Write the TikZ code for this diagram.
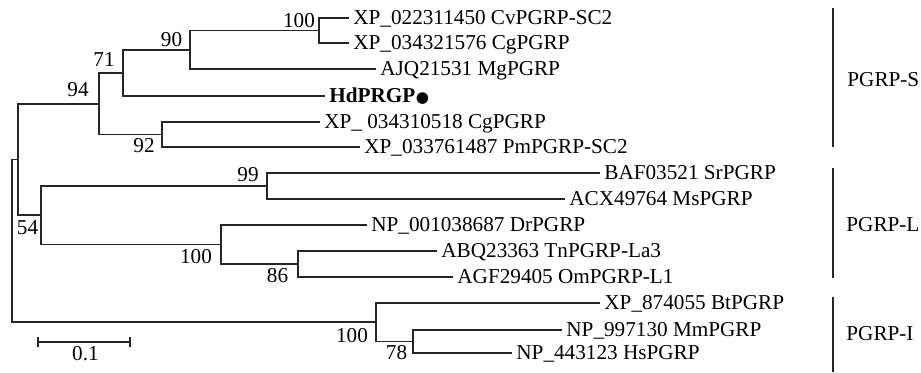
\documentclass[tikz,border=0pt]{standalone}
\usepackage{fontspec}
\setmainfont{Liberation Serif}
\newfontfamily\dotfont{DejaVu Sans}
\begin{document}
\begin{tikzpicture}[x=0.5pt,y=-0.5pt,
  txt/.style={font=\fontsize{10.6}{12}\selectfont, text height=0.66em, text depth=0pt},
  br/.style={line width=0.6pt, black!85},
  leaf/.style={txt, anchor=west, inner xsep=2pt, inner ysep=0pt},
  boot/.style={txt, inner sep=0pt},
  grp/.style={txt, anchor=west, inner sep=0pt},
  bar/.style={line width=1.1pt, black!85}]
\useasboundingbox (0,0) rectangle (921,372);
% internal nodes
\coordinate (root) at (12,240.75);
\coordinate (nSL) at (18,159.5);
\coordinate (nS) at (99,104);
\coordinate (n71) at (123,73);
\coordinate (n90) at (190,50);
\coordinate (n100a) at (319,30.5);
\coordinate (n92) at (162,134.5);
\coordinate (nL) at (41,215);
\coordinate (n99) at (267,186);
\coordinate (n100b) at (221,244.5);
\coordinate (n86) at (298,264);
\coordinate (nI) at (376,322);
\coordinate (n78) at (413,341.5);
% leaves
\node[leaf] (cv) at (349,18) {XP\_022311450 CvPGRP-SC2};
\node[leaf] (cg1) at (349,43) {XP\_034321576 CgPGRP};
\node[leaf] (ajq) at (376,69) {AJQ21531 MgPGRP};
\node[leaf] (hd) at (325,96) {\textbf{HdPRGP}\kern0.3pt\raisebox{0.3pt}{\dotfont\fontsize{7.6}{8}\selectfont ●}};
\node[leaf] (cg2) at (320,122) {XP\_ 034310518 CgPGRP};
\node[leaf] (pm) at (360,147) {XP\_033761487 PmPGRP-SC2};
\node[leaf] (baf) at (600,173) {BAF03521 SrPGRP};
\node[leaf] (acx) at (565,199) {ACX49764 MsPGRP};
\node[leaf] (dr) at (367,225) {NP\_001038687 DrPGRP};
\node[leaf] (abq) at (437,251) {ABQ23363 TnPGRP-La3};
\node[leaf] (agf) at (453,277) {AGF29405 OmPGRP-L1};
\node[leaf] (bt) at (600,303) {XP\_874055 BtPGRP};
\node[leaf] (mm) at (562,330) {NP\_997130 MmPGRP};
\node[leaf] (hs) at (512,353) {NP\_443123 HsPGRP};
% branches
\draw[br] (root) |- (nSL);
\draw[br] (root) |- (nI);
\draw[br] (nSL) |- (nS);
\draw[br] (nSL) |- (nL);
\draw[br] (nS) |- (n71);
\draw[br] (nS) |- (n92);
\draw[br] (n71) |- (n90);
\draw[br] (n71) |- (hd.west);
\draw[br] (n90) |- (n100a);
\draw[br] (n90) |- (ajq.west);
\draw[br] (n100a) |- (cv.west);
\draw[br] (n100a) |- (cg1.west);
\draw[br] (n92) |- (cg2.west);
\draw[br] (n92) |- (pm.west);
\draw[br] (nL) |- (n99);
\draw[br] (nL) |- (n100b);
\draw[br] (n99) |- (baf.west);
\draw[br] (n99) |- (acx.west);
\draw[br] (n100b) |- (dr.west);
\draw[br] (n100b) |- (n86);
\draw[br] (n86) |- (abq.west);
\draw[br] (n86) |- (agf.west);
\draw[br] (nI) |- (bt.west);
\draw[br] (nI) |- (n78);
\draw[br] (n78) |- (mm.west);
\draw[br] (n78) |- (hs.west);
% bootstrap values
\node[boot] (b100a) at (299,20.5) {100};
\node[boot] (b90) at (171.5,39.5) {90};
\node[boot] (b71) at (104,59.5) {71};
\node[boot] (b94) at (78,90) {94};
\node[boot] (b92) at (144,145.5) {92};
\node[boot] (b99) at (248,174.5) {99};
\node[boot] (b54) at (27.5,228) {54};
\node[boot] (b100b) at (196,256.5) {100};
\node[boot] (b86) at (277.5,275.5) {86};
\node[boot] (b100c) at (352,336) {100};
\node[boot] (b78) at (396.5,352.5) {78};
% scale bar
\coordinate (sb1) at (38,342);
\coordinate (sb2) at (130,342);
\draw[br] (sb1) -- (sb2);
\draw[br] ([yshift=2.5pt]sb1) -- ([yshift=-2.5pt]sb1);
\draw[br] ([yshift=2.5pt]sb2) -- ([yshift=-2.5pt]sb2);
\node[boot] (sbl) at (85.5,353.5) {0.1};
% group bars
\draw[bar] (833,8) -- (833,147);
\draw[bar] (833,168) -- (833,278);
\draw[bar] (833,297) -- (833,372);
\node[grp] (gS) at (847,80) {PGRP-S};
\node[grp] (gL) at (846,225) {PGRP-L};
\node[grp] (gI) at (846,334) {PGRP-I};
\end{tikzpicture}
\end{document}
